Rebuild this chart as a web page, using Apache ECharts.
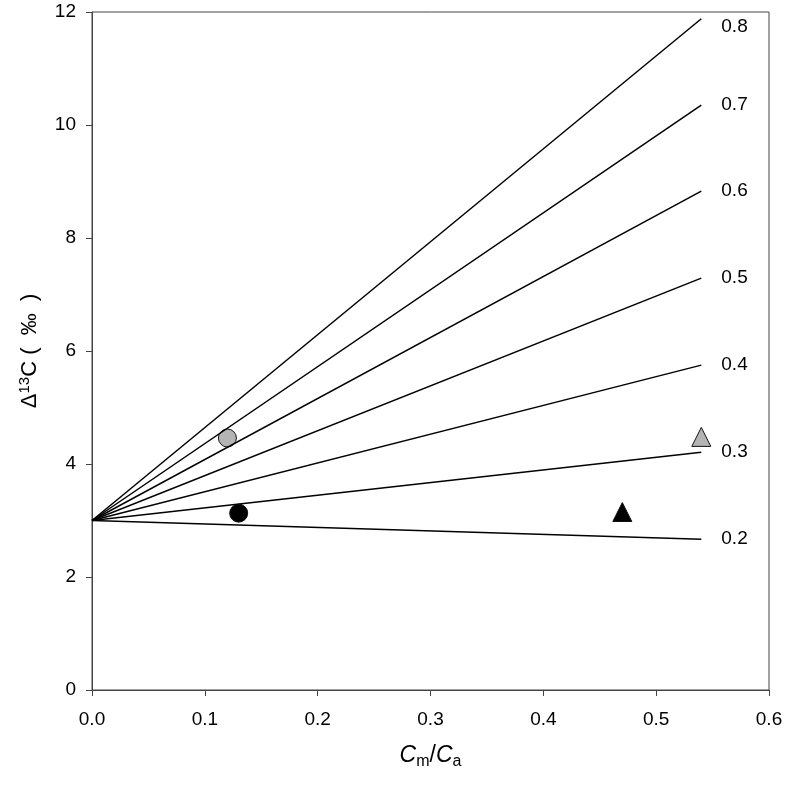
<!DOCTYPE html>
<html>
<head>
<meta charset="utf-8">
<script src="https://cdn.jsdelivr.net/npm/echarts@6/dist/echarts.min.js"></script>
<style>
html, body { margin: 0; padding: 0; background: #fff; }
#chart { width: 788px; height: 789px; }
</style>
</head>
<body>
<div id="chart"></div>
<script>
// fan of lines from (0, 3) to x = 0.54
const lineLabels = ['0.8', '0.7', '0.6', '0.5', '0.4', '0.3', '0.2']
const lineStartX = 0
const lineStartY = 3
const lineEndX = 0.54
const lineEndY = [11.88, 10.35, 8.83, 7.29, 5.75, 4.21, 2.67]

// measured points
const greyCircle = [0.12, 4.46]
const blackCircle = [0.13, 3.13]
const blackTriangle = [0.47, 3.15]
const greyTriangle = [0.54, 4.48]

const font = 'Liberation Sans, Arial, sans-serif'

const lineSeries = lineLabels.map((lab, i) => ({
  type: 'line',
  name: lab,
  data: [[lineStartX, lineStartY], [lineEndX, lineEndY[i]]],
  symbol: 'none',
  lineStyle: { color: '#000', width: 1.5 },
  silent: true,
  endLabel: {
    show: true,
    formatter: lab,
    color: '#000',
    fontSize: 19,
    fontFamily: font,
    distance: 20,
    offset: i === 0 ? [0, 8] : [0, 0]
  }
}))

const dotStyle = (color) => ({ color: color, borderColor: '#111', borderWidth: 1, opacity: 1 })

const chart = echarts.init(document.getElementById('chart'))
chart.setOption({
  animation: false,
  grid: { left: 92, top: 12, right: 19, bottom: 99, show: true, borderColor: '#444', borderWidth: 1 },
  xAxis: {
    type: 'value', min: 0, max: 0.6, interval: 0.1,
    name: '{it|C}{sub|m}/{it|C}{sub|a}',
    nameLocation: 'middle', nameGap: 52,
    nameTextStyle: {
      fontSize: 23, fontFamily: font, color: '#000',
      rich: {
        it: { fontSize: 23, fontStyle: 'italic', fontFamily: font, color: '#000' },
        sub: { fontSize: 16, fontFamily: font, color: '#000', verticalAlign: 'bottom', padding: [12, 0, 0, 0] }
      }
    },
    axisLine: { lineStyle: { color: '#444', width: 1 } },
    axisTick: { inside: false, length: 6, lineStyle: { color: '#444' } },
    axisLabel: { color: '#000', fontSize: 19, fontFamily: font, margin: 20, formatter: v => v.toFixed(1) },
    splitLine: { show: false }
  },
  yAxis: {
    type: 'value', min: 0, max: 12, interval: 2,
    name: '{n|Δ}{sup|13}{n|C (  ‰  )}',
    nameLocation: 'middle', nameGap: 50, nameRotate: 90,
    nameTextStyle: {
      fontSize: 22, fontFamily: font, color: '#000',
      rich: {
        n: { fontSize: 22, fontFamily: font, color: '#000' },
        sup: { fontSize: 15, fontFamily: font, color: '#000', verticalAlign: 'top', padding: [0, 0, 10, 0] }
      }
    },
    axisLine: { show: true, lineStyle: { color: '#444', width: 1 } },
    axisTick: { show: true, inside: false, length: 6, lineStyle: { color: '#444' } },
    axisLabel: { color: '#000', fontSize: 19, fontFamily: font, margin: 16 },
    splitLine: { show: false }
  },
  series: lineSeries.concat([
    { type: 'scatter', data: [greyCircle], symbol: 'circle', symbolSize: 18, itemStyle: dotStyle('#b4b4b4') },
    { type: 'scatter', data: [blackCircle], symbol: 'circle', symbolSize: 18, itemStyle: dotStyle('#000') },
    { type: 'scatter', data: [blackTriangle], symbol: 'triangle', symbolSize: 19, itemStyle: dotStyle('#000') },
    { type: 'scatter', data: [greyTriangle], symbol: 'triangle', symbolSize: 19, itemStyle: dotStyle('#b4b4b4') }
  ])
})
</script>
</body>
</html>
